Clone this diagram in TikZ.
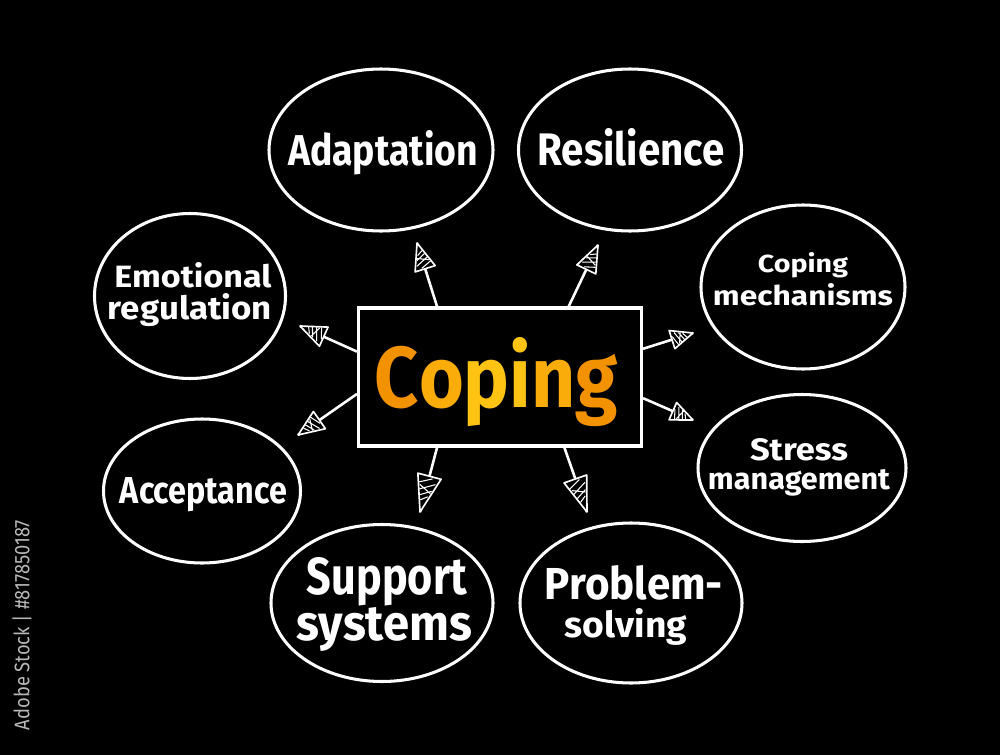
\documentclass[tikz,border=0pt]{standalone}
\usepackage{fontspec}
\setmainfont{Fira Sans}
\usetikzlibrary{shapes.geometric,calc,decorations.markings}
\definecolor{cA}{HTML}{F39200}
\definecolor{cB}{HTML}{F9AC0A}
\definecolor{cC}{HTML}{FFC413}
\newlength\pxu
\setlength\pxu{0.03cm}
\newcommand{\fit}[3]{\resizebox{#1\pxu}{#2\pxu}{#3}}
\tikzset{
  bubble/.style={draw=white, line width=2.6pt, ellipse, inner sep=0pt},
  txt/.style={anchor=base, inner sep=0pt, text=white, font=\bfseries},
  centerbox/.style={draw=white, line width=2.6pt, rectangle, inner sep=0pt},
  spoke/.style 2 args={draw=white, line width=2.2pt, postaction={decorate},
    decoration={markings, mark=at position 1 with {
      \begin{scope}[xscale=#1, yscale=#2]
      \draw[white, line width=1.4pt, fill=black, line join=round] (0,0) -- (-1,0.5) -- (-1,-0.5) -- cycle;
      \draw[white, line width=0.9pt] (-0.32,0.12) -- (-0.45,-0.15) (-0.45,0.2) -- (-0.62,-0.25)
        (-0.6,0.27) -- (-0.82,-0.33) (-0.78,0.36) -- (-0.95,-0.15) (-0.55,-0.22) -- (-0.72,0.3);
      \end{scope}
    }}}
}
\begin{document}
\begin{tikzpicture}[x=0.03cm,y=-0.03cm]
\fill[black] (0,0) rectangle (1000,755);
\useasboundingbox (0,0) rectangle (1000,755);

% centre
\node[centerbox, minimum width=283\pxu, minimum height=138\pxu] (core) at (500,377) {};
\node[txt] (title) at (496.5,407) {\fit{243}{70}{{\color{cA}C}{\color{cB}o}{\color{cC}p}{\color{cC}i}{\color{cB}n}{\color{cA}g}}};

% bubbles
\node[bubble, minimum width=224\pxu, minimum height=162\pxu] (adapt) at (381,150) {};
\node[bubble, minimum width=223\pxu, minimum height=162\pxu] (resil) at (630,150) {};
\node[bubble, minimum width=191\pxu, minimum height=165\pxu] (emo) at (190,296) {};
\node[bubble, minimum width=204\pxu, minimum height=164\pxu] (mech) at (803,287) {};
\node[bubble, minimum width=197\pxu, minimum height=144\pxu] (accept) at (202,491) {};
\node[bubble, minimum width=208\pxu, minimum height=147\pxu] (stress) at (802,468) {};
\node[bubble, minimum width=222\pxu, minimum height=157\pxu] (support) at (382,603) {};
\node[bubble, minimum width=222\pxu, minimum height=160\pxu] (problem) at (631,603) {};

% texts
\node[txt] (adaptT) at (383,165) {\fit{190}{35}{Adaptation}};
\node[txt] (resilT) at (631,165) {\fit{187}{37}{Resilience}};
\node[txt] (emoT1) at (193,287) {\fit{157}{25}{Emotional}};
\node[txt] (emoT2) at (190,319) {\fit{164}{26}{regulation}};
\node[txt] (mechT1) at (803,272) {\fit{90}{20}{Coping}};
\node[txt] (mechT2) at (803,305) {\fit{180}{22}{mechanisms}};
\node[txt] (acceptT) at (203.5,503) {\fit{167}{26}{Acceptance}};
\node[txt] (stressT1) at (799,460) {\fit{98}{22}{Stress}};
\node[txt] (stressT2) at (799,489) {\fit{182}{20}{management}};
\node[txt] (supportT1) at (387,594) {\fit{160}{37}{Support}};
\node[txt] (supportT2) at (384.5,640) {\fit{175}{33}{systems}};
\node[txt] (problemT1) at (634,599) {\fit{178}{34}{Problem-}};
\node[txt] (problemT2) at (626,637) {\fit{122}{29}{solving}};

% arrow tips
\coordinate (tAdapt) at (417,243);
\coordinate (tResil) at (598,245);
\coordinate (tEmo) at (300,326);
\coordinate (tAccept) at (298,435);
\coordinate (tMech) at (693,333);
\coordinate (tStress) at (693,420);
\coordinate (tSupport) at (420,512);
\coordinate (tProblem) at (587,512);

\draw[spoke={27}{21}] ($(core.north west)!0.28!(core.north east)$) -- (tAdapt);
\draw[spoke={27}{21}] ($(core.north west)!0.74!(core.north east)$) -- (tResil);
\draw[spoke={26}{21}] ($(core.north west)!0.32!(core.south west)$) -- (tEmo);
\draw[spoke={26}{21}] ($(core.north west)!0.62!(core.south west)$) -- (tAccept);
\draw[spoke={22}{19}] ($(core.north east)!0.30!(core.south east)$) -- (tMech);
\draw[spoke={22}{19}] ($(core.north east)!0.65!(core.south east)$) -- (tStress);
\draw[spoke={37}{24}] ($(core.south west)!0.28!(core.south east)$) -- (tSupport);
\draw[spoke={35}{24}] ($(core.south west)!0.725!(core.south east)$) -- (tProblem);

% side label
\node[rotate=90, inner sep=0pt, text=white!72!black] (stock) at (22,625) {\fit{210}{17}{Adobe Stock | \#817850187}};
\end{tikzpicture}
\end{document}
